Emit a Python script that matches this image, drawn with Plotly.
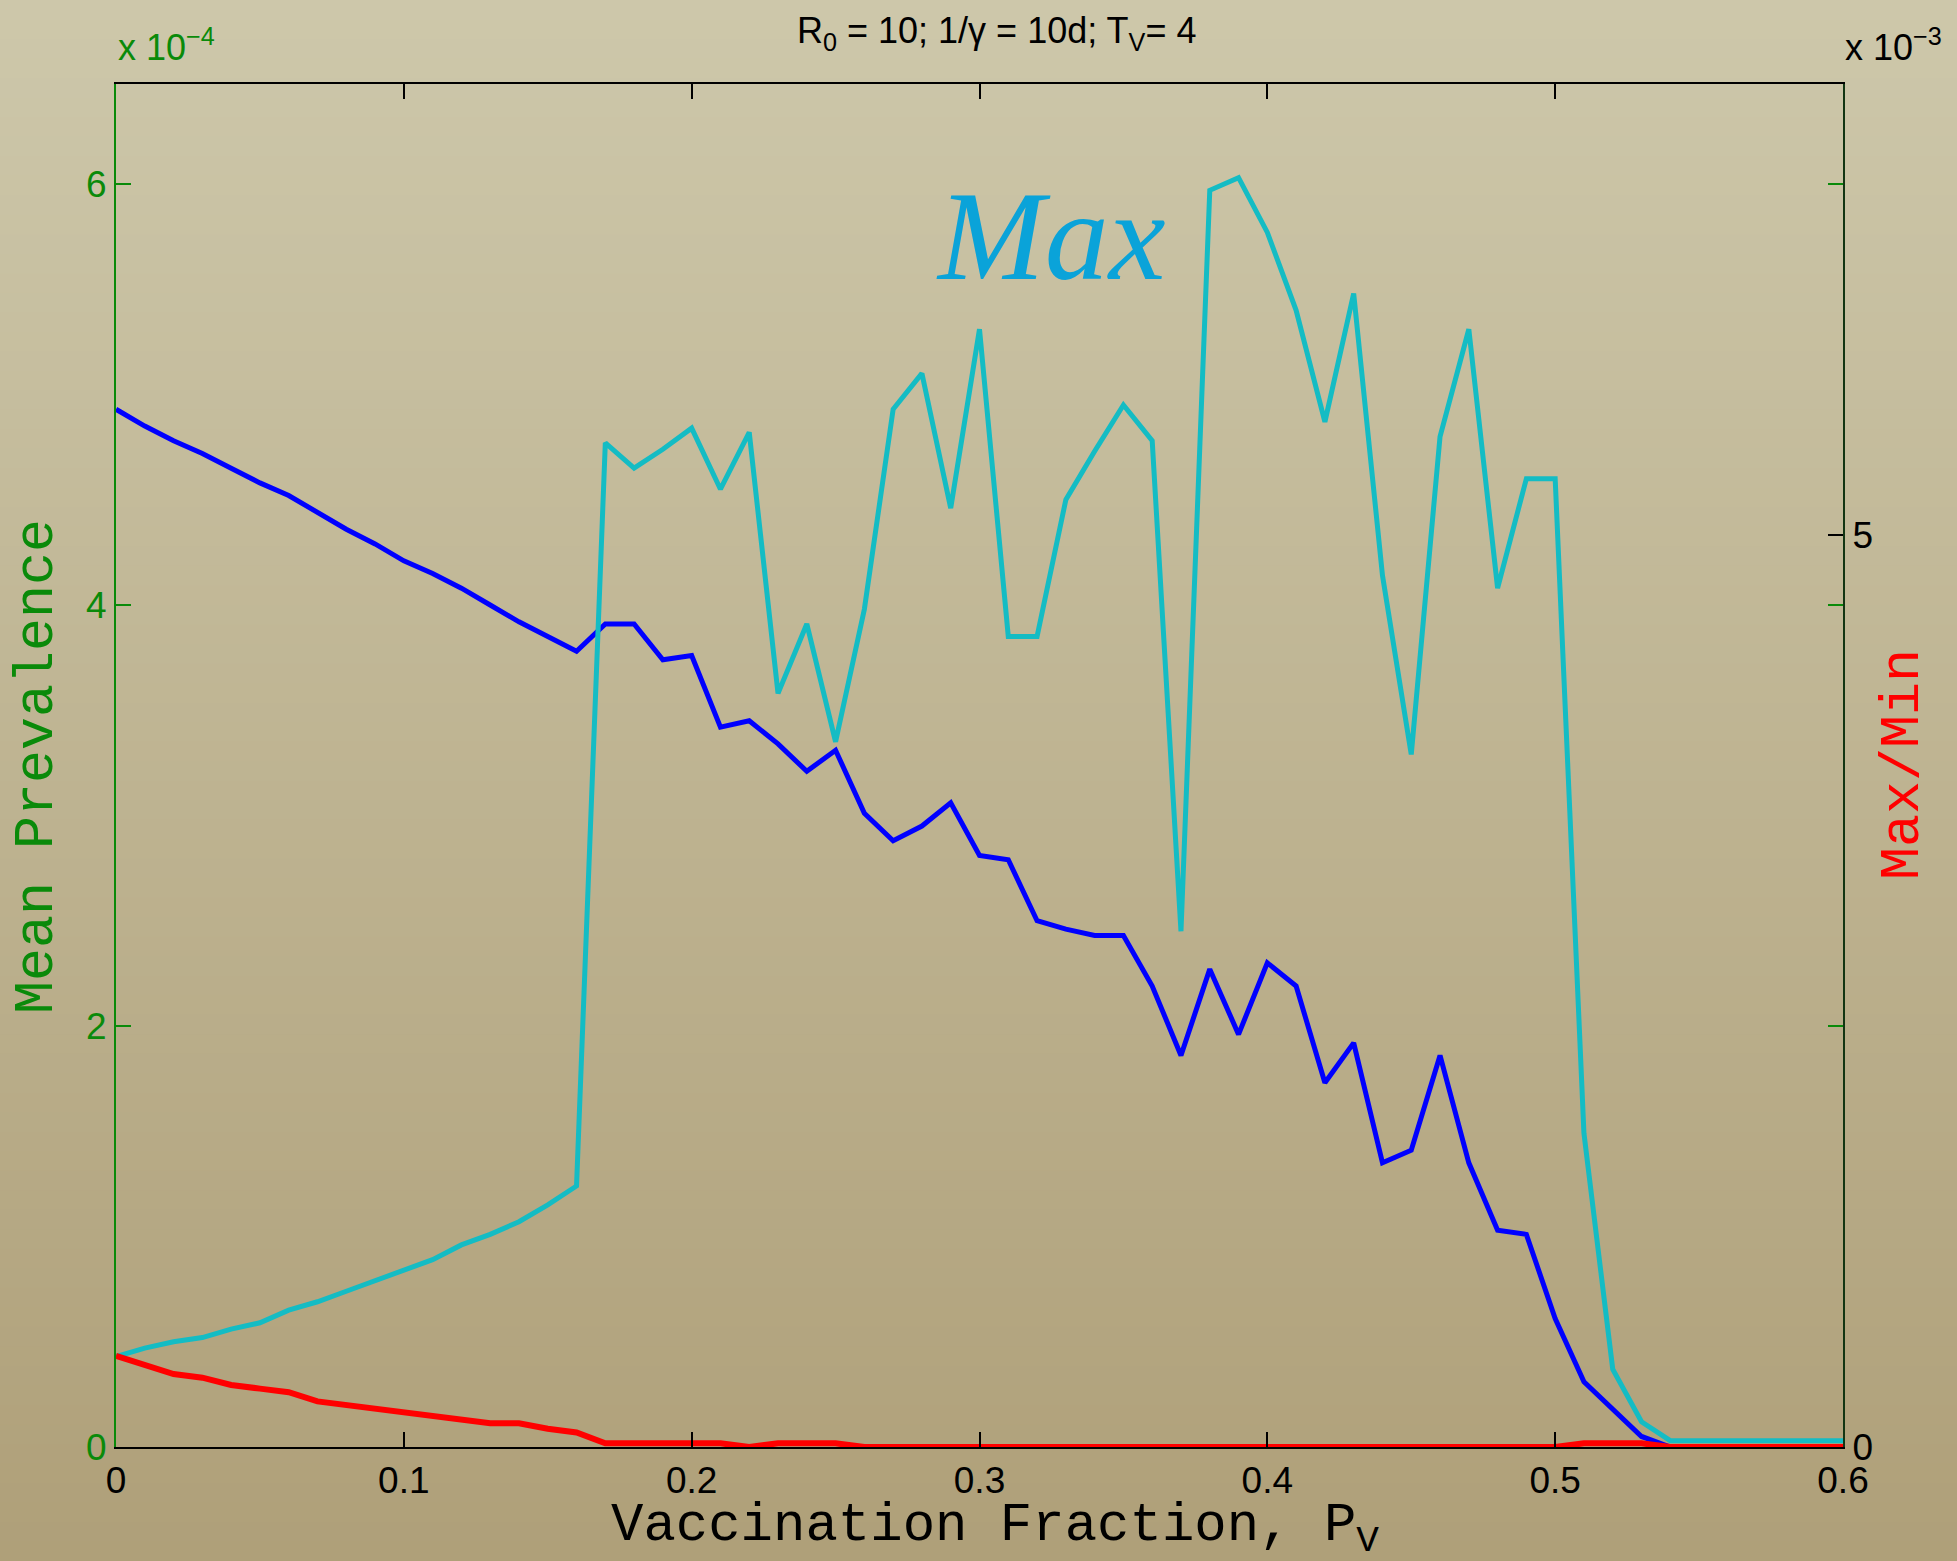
import plotly.graph_objects as go

# ---------------- data ----------------
vacc_fraction = [round(i * 0.01, 2) for i in range(61)]

# Mean prevalence (units of 1e-4), left axis
mean_prev = [4.93, 4.85, 4.78, 4.72, 4.65, 4.58, 4.52, 4.44, 4.36, 4.29,
             4.21, 4.15, 4.08, 4.00, 3.92, 3.85, 3.78, 3.91, 3.91, 3.74,
             3.76, 3.42, 3.45, 3.34, 3.21, 3.31, 3.01, 2.88, 2.95, 3.06,
             2.81, 2.79, 2.50, 2.46, 2.43, 2.43, 2.19, 1.86, 2.27, 1.96,
             2.30, 2.19, 1.73, 1.92, 1.35, 1.41, 1.86, 1.35, 1.03, 1.01,
             0.61, 0.31, 0.18, 0.05, 0.00, 0.00, 0.00, 0.00, 0.00, 0.00,
             0.00]

# Max prevalence (units of 1e-4), left axis
max_prev = [0.43, 0.47, 0.50, 0.52, 0.56, 0.59, 0.65, 0.69, 0.74, 0.79,
            0.84, 0.89, 0.96, 1.01, 1.07, 1.15, 1.24, 4.77, 4.65, 4.74,
            4.84, 4.55, 4.82, 3.58, 3.91, 3.35, 3.98, 4.93, 5.10, 4.46,
            5.31, 3.85, 3.85, 4.50, 4.73, 4.95, 4.78, 2.45, 5.97, 6.03,
            5.77, 5.40, 4.87, 5.48, 4.14, 3.29, 4.80, 5.31, 4.08, 4.60,
            4.60, 1.49, 0.37, 0.12, 0.03, 0.03, 0.03, 0.03, 0.03, 0.03,
            0.03]

# Max/Min (units of 1e-3), right axis
max_min = [0.50, 0.45, 0.40, 0.38, 0.34, 0.32, 0.30, 0.25, 0.23, 0.21,
           0.19, 0.17, 0.15, 0.13, 0.13, 0.10, 0.08, 0.02, 0.02, 0.02,
           0.02, 0.02, 0.00, 0.02, 0.02, 0.02, 0.00, 0.00, 0.00, 0.00,
           0.00, 0.00, 0.00, 0.00, 0.00, 0.00, 0.00, 0.00, 0.00, 0.00,
           0.00, 0.00, 0.00, 0.00, 0.00, 0.00, 0.00, 0.00, 0.00, 0.00,
           0.00, 0.02, 0.02, 0.02, 0.00, 0.00, 0.00, 0.00, 0.00, 0.00,
           0.00]

x_ticks = [0, 0.1, 0.2, 0.3, 0.4, 0.5, 0.6]
x_ticklabels = ["0", "0.1", "0.2", "0.3", "0.4", "0.5", "0.6"]
left_ticks = [0, 2, 4, 6]
right_ticks = [0, 5]

# ---------------- layout geometry ----------------
FIG_W, FIG_H = 1957, 1561
L, R, T, B = 116, 1843, 84, 1447
PW, PH = R - L, B - T


def px(x):
    return (x - L) / PW


def py(y):
    return 1 - (y - T) / PH


GREEN = "#0a8a0a"
fig = go.Figure()

fig.add_trace(go.Scatter(x=vacc_fraction, y=mean_prev, mode="lines",
                         line=dict(color="#0000ff", width=5), yaxis="y"))
fig.add_trace(go.Scatter(x=vacc_fraction, y=max_prev, mode="lines",
                         line=dict(color="#14bcc4", width=5), yaxis="y"))
fig.add_trace(go.Scatter(x=vacc_fraction, y=max_min, mode="lines",
                         line=dict(color="#ff0000", width=6), yaxis="y2"))

# background gradient (paper texture approximation)
shapes = []
n = 80
top_c = (205, 199, 170)
bot_c = (175, 160, 121)
for i in range(n):
    t = i / (n - 1)
    c = tuple(int(round(top_c[k] + (bot_c[k] - top_c[k]) * t)) for k in range(3))
    y0 = i * FIG_H / n
    y1 = (i + 1) * FIG_H / n + 1
    shapes.append(dict(type="rect", xref="paper", yref="paper",
                       x0=px(0), x1=px(FIG_W), y0=py(y1), y1=py(y0),
                       fillcolor="rgb(%d,%d,%d)" % c, line=dict(width=0),
                       layer="below"))

mono = "Liberation Mono, Courier New, monospace"
sans = "Liberation Sans, Arial, sans-serif"

annotations = [
    dict(text="<i>Max</i>", x=px(1050), y=py(236), xref="paper", yref="paper",
         showarrow=False, xanchor="center", yanchor="middle",
         font=dict(family="Liberation Serif, Times New Roman, serif", size=128, color="#0aa3d9")),
    dict(text="Mean Prevalence", x=px(37), y=py(767), xref="paper", yref="paper",
         showarrow=False, textangle=-90, xanchor="center", yanchor="middle",
         font=dict(family=mono, size=55, color=GREEN)),
    dict(text="Max/Min", x=px(1903), y=py(764), xref="paper", yref="paper",
         showarrow=False, textangle=-90, xanchor="center", yanchor="middle",
         font=dict(family=mono, size=55, color="#ff0000")),
    dict(text="Vaccination Fraction, P<sub>V</sub>", x=px(995), y=py(1493),
         xref="paper", yref="paper", showarrow=False, xanchor="center", yanchor="top",
         font=dict(family=mono, size=54, color="black")),
    dict(text="x 10<sup>−4</sup>", x=px(116), y=py(70), xref="paper", yref="paper",
         showarrow=False, xanchor="left", yanchor="bottom",
         font=dict(family=sans, size=36, color=GREEN)),
    dict(text="x 10<sup>−3</sup>", x=px(1843), y=py(70), xref="paper", yref="paper",
         showarrow=False, xanchor="left", yanchor="bottom",
         font=dict(family=sans, size=36, color="black")),
    dict(text="R<sub>0</sub> = 10; 1/γ = 10d; T<sub>V</sub>= 4", x=px(996), y=py(8),
         xref="paper", yref="paper", showarrow=False, xanchor="center", yanchor="top",
         font=dict(family=sans, size=36, color="black")),
]

fig.update_layout(
    width=FIG_W, height=FIG_H,
    margin=dict(l=L, r=FIG_W - R, t=T, b=FIG_H - B, pad=0),
    paper_bgcolor="rgb(190,180,146)",
    plot_bgcolor="rgba(0,0,0,0)",
    showlegend=False,
    shapes=shapes,
    annotations=annotations,
    xaxis=dict(range=[0, 0.6], tickvals=x_ticks, ticktext=x_ticklabels,
               ticks="inside", ticklen=15, tickwidth=1.5, tickcolor="black",
               showline=True, linecolor="black", linewidth=2, mirror="ticks",
               showgrid=False, zeroline=False,
               tickfont=dict(family=sans, size=37, color="black")),
    yaxis=dict(range=[0, 6.475], tickvals=left_ticks,
               ticks="inside", ticklen=15, tickwidth=1.5, tickcolor=GREEN,
               showline=True, linecolor=GREEN, linewidth=2, mirror="ticks",
               showgrid=False, zeroline=False,
               tickfont=dict(family=sans, size=37, color=GREEN)),
    yaxis2=dict(range=[0, 7.47], tickvals=right_ticks, overlaying="y", side="right",
                ticks="inside", ticklen=15, tickwidth=1.5, tickcolor="black",
                showline=True, linecolor="#123512", linewidth=2,
                showgrid=False, zeroline=False,
                tickfont=dict(family=sans, size=37, color="black")),
)

fig.write_html("out.html")
